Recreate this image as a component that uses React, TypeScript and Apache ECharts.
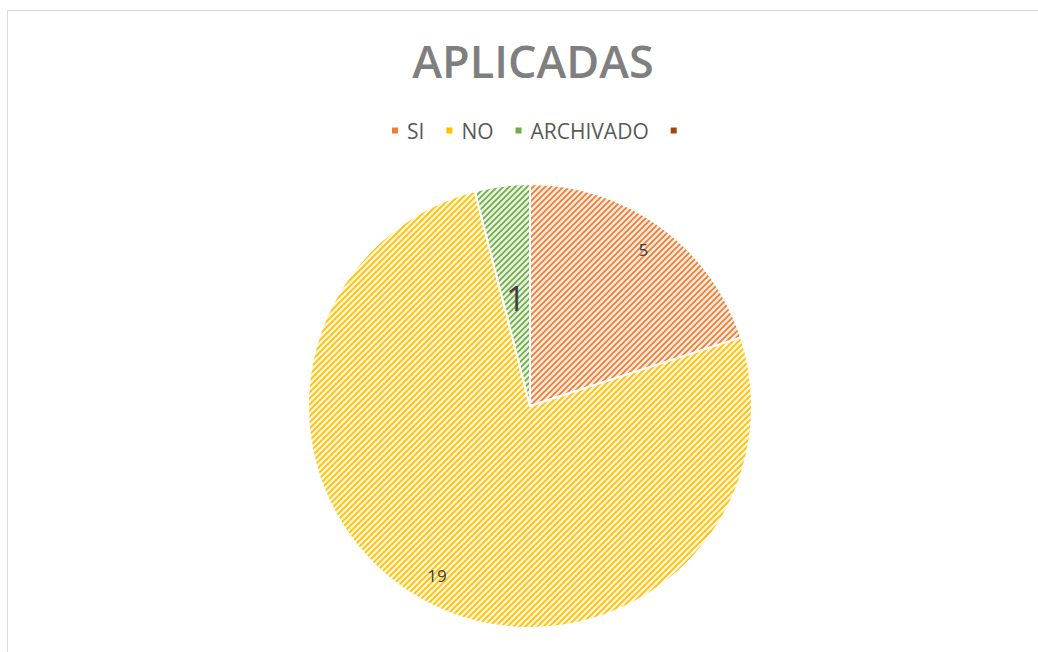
import React, { useEffect, useRef } from "react";
import * as echarts from "echarts";

const titleText = "APLICADAS";
const categories = ["SI", "NO", "ARCHIVADO", " "];
const values = [5, 19, 1, 0];
const stripeColors = ["#ED7D31", "#FFC000", "#70AD47", "#9E480E"];
const paleColors = ["#FDEBE0", "#FFF5D6", "#E9F3E2", "#E8C9B5"];

function makePattern(fg: string, bg: string) {
  const s = 6;
  const c = document.createElement("canvas");
  c.width = s;
  c.height = s;
  const ctx = c.getContext("2d")!;
  ctx.fillStyle = bg;
  ctx.fillRect(0, 0, s, s);
  ctx.strokeStyle = fg;
  ctx.lineWidth = 1.7;
  ctx.beginPath();
  ctx.moveTo(-1, s + 1);
  ctx.lineTo(s + 1, -1);
  ctx.moveTo(-1, 1);
  ctx.lineTo(1, -1);
  ctx.moveTo(s - 1, s + 1);
  ctx.lineTo(s + 1, s - 1);
  ctx.stroke();
  return { image: c, repeat: "repeat" as const };
}

export default function App() {
  const ref = useRef<HTMLDivElement>(null);
  useEffect(() => {
    document.body.style.margin = "0";
    const chart = echarts.init(ref.current!, null, { renderer: "svg" });
    const patterns = categories.map((_, i) => makePattern(stripeColors[i], paleColors[i]));
    const mainData = categories.map((n, i) => ({
      name: n,
      value: values[i],
      itemStyle: { color: patterns[i] as any },
      label: { show: i === 2 },
    }));
    const overlayData = categories.map((n, i) => ({
      name: n,
      value: values[i],
      label: { show: i === 0 || i === 1 },
    }));
    chart.setOption({
      animation: false,
      backgroundColor: "#ffffff",
      title: {
        text: titleText,
        left: 528,
        textAlign: "center",
        top: 33,
        textStyle: {
          fontFamily: "Open Sans",
          fontWeight: 600,
          fontSize: 45,
          color: "#7F7F7F",
        },
      },
      legend: {
        data: categories.map((n, i) => ({ name: n, itemStyle: { color: stripeColors[i] } })),
        top: 115,
        left: 385,
        itemWidth: 8,
        itemHeight: 8,
        itemGap: 20,
        icon: "rect",
        textStyle: { fontFamily: "Open Sans", fontSize: 21, color: "#595959", padding: [0, 0, 0, 3] },
      },
      graphic: [
        { type: "line", shape: { x1: 7.5, y1: 10.5, x2: 1038, y2: 10.5 }, style: { stroke: "#D9D9D9", lineWidth: 1 } },
        { type: "line", shape: { x1: 7.5, y1: 10.5, x2: 7.5, y2: 652 }, style: { stroke: "#D9D9D9", lineWidth: 1 } },
      ],
      series: [
        {
          type: "pie",
          center: [530, 406],
          radius: [0, 222],
          startAngle: 90,
          clockwise: true,
          avoidLabelOverlap: false,
          itemStyle: { borderColor: "#ffffff", borderWidth: 2 },
          label: {
            position: "inside",
            formatter: "{c}",
            fontFamily: "Open Sans",
            fontSize: 34,
            color: "#404040",
            offset: [0, 5],
          },
          labelLine: { show: false },
          data: mainData,
        },
        {
          type: "pie",
          center: [530, 406],
          radius: [158, 222],
          startAngle: 90,
          clockwise: true,
          silent: true,
          avoidLabelOverlap: false,
          itemStyle: { color: "rgba(0,0,0,0)", borderWidth: 0 },
          label: {
            position: "inside",
            formatter: "{c}",
            fontFamily: "Open Sans",
            fontSize: 17,
            color: "#404040",
          },
          labelLine: { show: false },
          data: overlayData,
        },
      ],
    });
    return () => chart.dispose();
  }, []);
  return <div ref={ref} style={{ width: 1038, height: 652 }} />;
}
